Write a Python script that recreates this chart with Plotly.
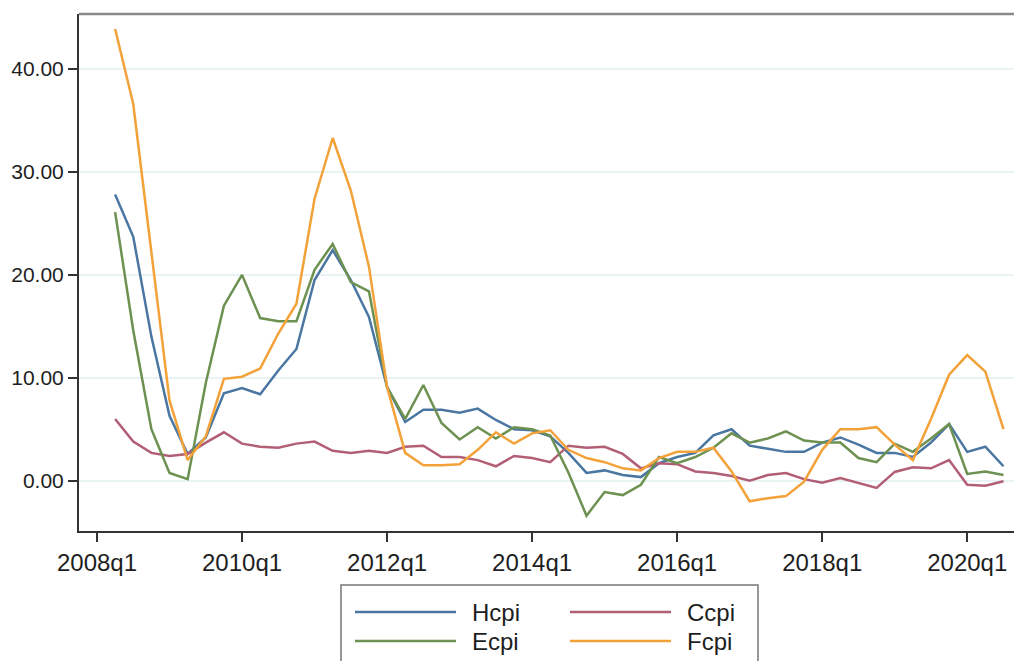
import plotly.graph_objects as go

# Quarterly series, 2008q2 .. 2020q3
start_year, start_q, n_obs = 2008, 2, 50

hcpi = [27.8, 23.7, 14.0, 6.3, 2.6, 4.2, 8.5, 9.0, 8.4, 10.7,
        12.8, 19.5, 22.4, 19.5, 15.9, 9.1, 5.7, 6.9, 6.9, 6.6,
        7.0, 5.9, 5.0, 4.9, 4.3, 2.7, 0.75, 1.0, 0.55, 0.35,
        1.7, 2.3, 2.7, 4.4, 5.0, 3.4, 3.1, 2.8, 2.8, 3.7,
        4.2, 3.5, 2.7, 2.7, 2.3, 3.7, 5.5, 2.8, 3.3, 1.4]

ccpi = [6.0, 3.8, 2.7, 2.4, 2.6, 3.7, 4.7, 3.6, 3.3, 3.2,
        3.6, 3.8, 2.9, 2.7, 2.9, 2.7, 3.3, 3.4, 2.3, 2.3,
        2.0, 1.4, 2.4, 2.2, 1.8, 3.4, 3.2, 3.3, 2.6, 1.2,
        1.7, 1.6, 0.9, 0.75, 0.45, 0.0, 0.55, 0.75, 0.15, -0.2,
        0.25, -0.2, -0.7, 0.85, 1.3, 1.2, 2.0, -0.4, -0.5, -0.05]

ecpi = [26.1, 14.6, 5.0, 0.75, 0.15, 9.5, 17.0, 20.0, 15.8, 15.5,
        15.5, 20.5, 23.0, 19.3, 18.4, 9.1, 6.0, 9.3, 5.6, 4.0,
        5.2, 4.1, 5.2, 5.0, 4.4, 0.8, -3.4, -1.1, -1.4, -0.4,
        2.3, 1.7, 2.3, 3.2, 4.6, 3.7, 4.1, 4.8, 3.9, 3.7,
        3.7, 2.2, 1.8, 3.6, 2.8, 4.1, 5.5, 0.65, 0.9, 0.55]

fcpi = [43.9, 36.6, 22.2, 7.8, 2.0, 4.3, 9.9, 10.1, 10.9, 14.3,
        17.2, 27.4, 33.3, 28.2, 20.8, 9.1, 2.7, 1.5, 1.5, 1.6,
        3.0, 4.7, 3.6, 4.6, 4.9, 3.0, 2.2, 1.8, 1.2, 1.0,
        2.2, 2.8, 2.8, 3.2, 0.9, -2.0, -1.7, -1.5, -0.1, 3.0,
        5.0, 5.0, 5.2, 3.5, 2.0, 6.0, 10.3, 12.2, 10.6, 5.0]

series_names = ["Hcpi", "Ccpi", "Ecpi", "Fcpi"]
series_colors = ["#4a76a2", "#b25f76", "#6d9150", "#f3a23a"]
series_values = [hcpi, ccpi, ecpi, fcpi]

x_tick_labels = ["2008q1", "2010q1", "2012q1", "2014q1", "2016q1", "2018q1", "2020q1"]
y_tick_values = [0, 10, 20, 30, 40]


def qnum(year, q):
    return (year - 2008) * 4 + (q - 1)


x_vals = []
y, q = start_year, start_q
for _ in range(n_obs):
    x_vals.append(qnum(y, q))
    q += 1
    if q > 4:
        q = 1
        y += 1
x_labels = []
for v in x_vals:
    x_labels.append(f"{2008 + v // 4}q{v % 4 + 1}")

tick_pos = [qnum(int(t[:4]), int(t[-1])) for t in x_tick_labels]

fig = go.Figure()
for name, color, vals in zip(series_names, series_colors, series_values):
    fig.add_trace(go.Scatter(x=x_vals, y=vals, mode="lines", name=name,
                             line=dict(color=color, width=2.5),
                             customdata=x_labels,
                             hovertemplate="%{customdata}: %{y:.2f}<extra>" + name + "</extra>",
                             showlegend=False))

FONT = "Liberation Sans, Arial, sans-serif"
TXT = "#1e1e1e"
fig.update_layout(
    width=1014, height=661,
    margin=dict(l=79, r=0, t=14, b=130),
    paper_bgcolor="white", plot_bgcolor="white",
    font=dict(family=FONT, color=TXT),
    xaxis=dict(range=[-0.993, 50.58], tickvals=tick_pos, ticktext=x_tick_labels,
               automargin=False,
               showgrid=False, zeroline=False, showline=True, linecolor="#333333",
               linewidth=2, ticks="outside", ticklen=9, tickwidth=1.5, tickcolor="#333333",
               tickfont=dict(size=24, family=FONT, color=TXT)),
    yaxis=dict(range=[-4.89, 45.35], tickvals=y_tick_values,
               ticktext=[f"{v:.2f}" for v in y_tick_values],
               automargin=False,
               showgrid=True, gridcolor="#eaf3f4", gridwidth=1.5, zeroline=False,
               showline=True, linecolor="#333333", linewidth=2,
               ticks="outside", ticklen=9, tickwidth=1.5, tickcolor="#333333",
               tickfont=dict(size=21, family=FONT, color=TXT)),
)

# top frame line
fig.add_shape(type="line", xref="paper", yref="paper", x0=0, x1=1, y0=1, y1=1,
              line=dict(color="#8a8a8a", width=2.5))

# legend drawn as box
W, H = 935.0, 517.0
def px(xp):
    return (xp - 79) / W
def py(yp):
    return (531 - yp) / H

fig.add_shape(type="rect", xref="paper", yref="paper",
              x0=px(341), x1=px(758), y0=py(585), y1=py(675),
              line=dict(color="#777777", width=1.5), fillcolor="white")
legend_pos = [(355, 612), (570, 612), (355, 641), (570, 641)]
for (lx, ly), name, color in zip(legend_pos, series_names, series_colors):
    fig.add_shape(type="line", xref="paper", yref="paper",
                  x0=px(lx), x1=px(lx + 101), y0=py(ly), y1=py(ly),
                  line=dict(color=color, width=2.5))
    fig.add_annotation(xref="paper", yref="paper", x=px(lx + 115), y=py(ly),
                       text=name, showarrow=False, xanchor="left", yanchor="middle",
                       font=dict(size=24, family=FONT, color=TXT))

fig.write_html("out.html", config={"displayModeBar": False},
               post_script="document.body.style.margin='0';document.body.style.overflow='hidden';")
